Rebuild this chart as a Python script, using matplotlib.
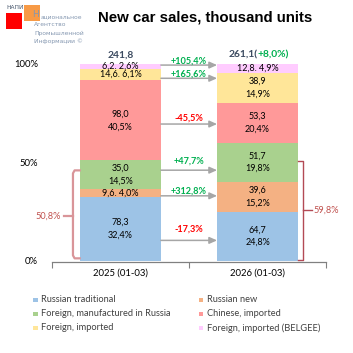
import matplotlib
matplotlib.use('Agg')
import matplotlib.pyplot as plt
from matplotlib.patches import Rectangle

plt.rcParams['font.family'] = ['Lato', 'DejaVu Sans']

periods = ['2025 (01-03)', '2026 (01-03)']
series = ['Russian traditional', 'Russian new', 'Foreign, manufactured in Russia',
          'Chinese, imported', 'Foreign, imported', 'Foreign, imported (BELGEE)']
colors = ['#9DC3E6', '#F4B183', '#A9D18E', '#FF9999', '#FFE699', '#FFCCFF']

# thousand units, per period
vals_2025 = [78.3, 9.6, 35.0, 98.0, 14.6, 6.2]
vals_2026 = [64.7, 39.6, 51.7, 53.3, 38.9, 12.8]
# shares as printed, %
share_2025 = [32.4, 4.0, 14.5, 40.5, 6.1, 2.6]
share_2026 = [24.8, 15.2, 19.8, 20.4, 14.9, 4.9]
# y/y change, %
changes = [-17.3, 312.8, 47.7, -45.5, 165.6, 105.4]
totals = [241.8, 261.1]
total_growth = 8.0
local_share = [50.8, 59.8]

# where the change arrows and their labels sit (axes fraction)
arrow_y = [0.103, 0.329, 0.459, 0.693, 0.925, 0.992]
label_y = [0.161, 0.353, 0.507, 0.725, 0.945, 1.013]


def fmt(v, nd=1):
    return f'{v:.{nd}f}'.replace('.', ',')


W = 353
fig = plt.figure(figsize=(3.53, 3.53), dpi=100)


def fx(px):
    return px / W


def fy(py):
    return 1 - py / W


ax = fig.add_axes([fx(52), fy(260.7), 274 / W, 197.2 / W])

bar_w = 0.59
all_vals = [vals_2025, vals_2026]
all_shares = [share_2025, share_2026]
for i in range(2):
    tot = sum(all_vals[i])
    bottom = 0
    for j in range(len(series)):
        h = all_vals[i][j] / tot
        ax.bar(i, h, bar_w, bottom=bottom, color=colors[j], linewidth=0)
        if all_shares[i][j] < 10:
            txt = fmt(all_vals[i][j]) + '. ' + fmt(all_shares[i][j]) + '%'
        else:
            txt = fmt(all_vals[i][j]) + '\n' + fmt(all_shares[i][j]) + '%'
        ax.text(i, bottom + h / 2, txt, ha='center', va='center', fontsize=6.5,
                color='#000000', linespacing=1.5)
        bottom += h

# change arrows between bars
x0 = bar_w / 2
x1 = 1 - bar_w / 2
for j in range(len(series)):
    ax.annotate('', xy=(x1, arrow_y[j]), xytext=(x0, arrow_y[j]),
                arrowprops=dict(arrowstyle='-|>,head_length=0.45,head_width=0.2',
                                color='#A6A6A6', lw=1.1, shrinkA=0, shrinkB=0))
    c = '#00B050' if changes[j] > 0 else '#FF0000'
    sign = '+' if changes[j] > 0 else ''
    ax.text(0.5, label_y[j], sign + fmt(changes[j]) + '%', ha='center', va='center',
            fontsize=6.6, fontweight='bold', color=c)

# totals on top
ax.text(0, 1.043, fmt(totals[0]), ha='center', va='center', fontsize=7.4,
        fontweight='bold', color='#3B4A60')
ax.text(1.0, 1.043, fmt(totals[1]) + '(', ha='right', va='center', fontsize=7.4,
        fontweight='bold', color='#3B4A60')
ax.text(1.0, 1.043, '+' + fmt(total_growth) + '%)', ha='left', va='center',
        fontsize=7.4, fontweight='bold', color='#00B050')

# brackets for "local" share
lx, ly0, ly1 = -0.347, 0.012, 0.458
ax.plot([-0.298, lx + 0.012, lx, lx, lx + 0.012, -0.298],
        [ly1, ly1, ly1 - 0.015, ly0 + 0.015, ly0, ly0],
        color='#D99599', lw=1.6, clip_on=False, solid_joinstyle='round')
ax.plot([-0.412, lx], [0.228, 0.228], color='#D99599', lw=1.6, clip_on=False)
ax.text(-0.434, 0.228, fmt(local_share[0]) + '%', ha='right', va='center',
        fontsize=6.6, color='#C0504D')

rx, ry0, ry1 = 1.332, 0.005, 0.507
ax.plot([1.296, rx, rx, 1.296], [ry1, ry1, ry0, ry0], color='#B34A55', lw=1.0,
        clip_on=False)
ax.plot([rx, 1.396], [0.257, 0.257], color='#B34A55', lw=1.0, clip_on=False)
ax.text(1.412, 0.257, fmt(local_share[1]) + '%', ha='left', va='center',
        fontsize=6.6, color='#C0504D')

ax.set_xlim(-0.5, 1.5)
ax.set_ylim(0, 1)
ax.set_yticks([0, 0.5, 1.0])
ax.set_yticklabels(['0%', '50%', '100%'])
ax.set_xticks([0, 1])
ax.set_xticklabels(periods)
ax.set_xticks([-0.5, 0.5, 1.5], minor=True)
ax.tick_params(axis='y', length=0, pad=10, labelsize=6.8)
ax.tick_params(axis='x', which='major', length=0, pad=5, labelsize=6.8)
ax.tick_params(axis='x', which='minor', length=4, color='#808080', width=0.8)
for s in ['left', 'right', 'top']:
    ax.spines[s].set_visible(False)
ax.spines['bottom'].set_color('#808080')
ax.spines['bottom'].set_linewidth(0.9)
ax.spines['bottom'].set_position(('outward', 1))

# title
fig.text(fx(205), fy(17), 'New car sales, thousand units', ha='center', va='center',
         fontsize=10.8, fontweight='bold', family=['Liberation Sans', 'DejaVu Sans'])

# legend, drawn by hand in two columns
leg_x = [33, 199]
leg_y = [300, 314, 328]
for j, name in enumerate(series):
    col = j % 2
    row = j // 2
    fig.add_artist(Rectangle((fx(leg_x[col]), fy(leg_y[row] + 2)), 4.5 / W, 4.5 / W,
                             transform=fig.transFigure, color=colors[j], lw=0))
    fig.text(fx(leg_x[col] + 8), fy(leg_y[row]), name, ha='left', va='center',
             fontsize=6.7, color='#404040')

# logo
fig.add_artist(Rectangle((fx(6), fy(29)), 16 / W, 16 / W, transform=fig.transFigure,
                         color='#FF0000', lw=0))
fig.add_artist(Rectangle((fx(24), fy(21)), 16 / W, 16 / W, transform=fig.transFigure,
                         color='#F79A46', lw=0))
fig.text(fx(6), fy(7.5), 'НАПИ', ha='left', va='center', fontsize=4.2,
         color='#44546A', family='DejaVu Sans')
fig.text(fx(32.5), fy(14.5), 'Н', ha='left', va='center', fontsize=6.5,
         color='#8497B0', family='DejaVu Sans')
fig.text(fx(40.5), fy(17), 'ациональное', ha='left', va='center', fontsize=4.3,
         color='#8497B0', family='DejaVu Sans')
logo_lines = ['Агентство', 'Промышленной', 'Информации ©']
for k, line in enumerate(logo_lines):
    fig.text(fx(34), fy(25 + 8 * k), line, ha='left', va='center', fontsize=4.3,
             color='#8497B0', family='DejaVu Sans')

fig.savefig('out.png', dpi=100)
